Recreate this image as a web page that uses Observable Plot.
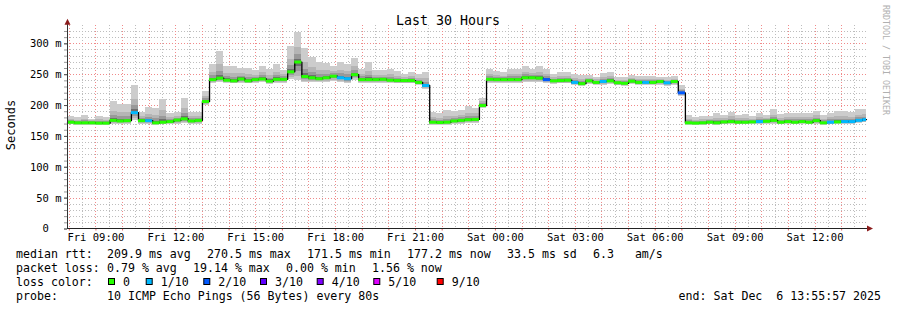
<!DOCTYPE html>
<html>
<head>
<meta charset="utf-8">
<script src="https://cdn.jsdelivr.net/npm/d3@7"></script>
<script src="https://cdn.jsdelivr.net/npm/@observablehq/plot@0.6"></script>
<style>
html,body{margin:0;padding:0;background:#fff;}
#wrap{position:relative;width:897px;height:310px;overflow:hidden;background:#fff;}
#wrap svg{position:absolute;left:0;top:0;}
</style>
</head>
<body>
<div id="wrap"></div>
<script>
// ---------------- data ----------------
const titleText = "Last 30 Hours";
const yLabelText = "Seconds";
const watermarkText = "RRDTOOL / TOBI OETIKER";
const startTime = new Date(2025, 11, 5, 7, 55, 57);
const endTime = new Date(2025, 11, 6, 13, 55, 57);
const stepMinutes = 16;

// median rtt per 16-minute bin (ms)
const median = [
173,172,172,172,171.5,171.5,176,175,175.5,188.5,
175.5,175.5,172,173,174,176.5,178.5,175,176,206.5,
242,244.3,241,240,243,240,242,243,239.5,242.5,
242.5,254.6,270.5,247,245,243.5,245,247.5,245,243.5,
250,242,242,242,242.5,241,240.5,240.5,240.5,237.5,
232.5,173,172.5,173,175,176,177,177.5,200,242.5,
242,242,242,242,245,245,244.5,242,240,240.5,
241,237.5,235.5,240,237.5,239,240,237,236,239.5,
237.5,237.5,237.5,239,236.8,239,220.6,172,171.5,172,
173,172,173.5,174,173,173,173.5,174,174.5,176,
173,174,173,174,173,175.5,172,173,173.5,174,
174,176,177.2];

// highest ping of each bin (top of the smoke, ms)
const smokeMax = [
183,180,184,178,182,180,206,202,201,232.5,
188,197,196,210,187,189,211,188,189,222.5,
266.5,287.5,263.8,264,259.5,259.5,256.7,264,259,266,
257,296,317.8,293,278,269,267.5,263,269,267,
276,259,269,256,256,259,255,250,254,251,
254,189,187,192,190,192,198,196,212,259,
255,253,259,259,263,259,263,259,250,253,
254,251,248,248,245.5,252,254,245,245,248,
247,247,247,245,245.5,247,232.5,184,180,182,
182,187,184,189,184,185.5,182,187,184,193,
186,187,187,187,187,191,184,187,190,190,
188,193,193];

// lowest ping of each bin (bottom of the smoke, ms)
const smokeMin = [
168.5,168,168,168,167.5,167.5,169,169,169,176,
169.5,170,168,168.5,169,170,171,169,170,200,
236,237,235.5,235,236,235,236,237,234.5,236,
236,243,240,237,237,237,238,239,238,236,
241,236,236,236,236,235.5,235,235,235,232,
226,168,168,168,169,170,171,171,195,236,
236,236,236,236,238,238,238,235,234.5,235,
235,232,231,234,232,233,234,232,231,233.5,
232,232,232,233,231,233,214,168,167.5,168,
168.5,168,168.5,169,168.5,168.5,169,169,169.5,170,
168.5,169,168.5,169,168.5,170,167.5,168.5,169,169,
169,171,172];

// packet loss level per bin (index into lossLabels)
const lossLevel = [
0,0,0,0,0,0,0,0,0,1,
0,1,0,0,0,0,0,0,0,0,
0,0,0,0,0,0,0,0,0,0,
0,0,0,0,0,0,0,0,1,1,
0,0,0,0,0,0,0,0,0,0,
1,0,0,0,0,0,0,0,0,0,
0,0,0,0,0,0,0,2,0,0,
0,1,0,0,0,1,0,0,0,0,
0,1,0,0,1,0,2,0,0,0,
0,0,0,0,0,0,0,1,0,0,
0,0,0,0,0,0,0,1,0,1,
1,1,1];

const lossLabels = ["0", "1/10", "2/10", "3/10", "4/10", "5/10", "9/10"];
const lossColors = ["#26ff00", "#00b8ff", "#0059ff", "#5e00ff", "#7e00ff", "#dd00ff", "#ff0000"];
const yTickValues = [0, 50, 100, 150, 200, 250, 300];

const rttLabel = "median rtt:";
const rttStats = ["209.9 ms avg", "270.5 ms max", "171.5 ms min", "177.2 ms now", "33.5 ms sd", "6.3   am/s"];
const lossLabel = "packet loss:";
const lossStats = ["0.79 % avg", "19.14 % max", "0.00 % min", "1.56 % now"];
const colorLabel = "loss color:";
const probeLabel = "probe:";
const probeText = "10 ICMP Echo Pings (56 Bytes) every 80s";
const endText = "end: Sat Dec  6 13:55:57 2025";

// ---------------- layout / style ----------------
const FONT = "'DejaVu Sans Mono', monospace";
const W = 897, H = 245;
const rttX = [107, 207, 307, 407, 507, 593];
const lossX = [107, 193, 286, 372];
const boxX = [108, 145.7, 203.3, 260, 316.7, 373.3, 436.7];
const lineBase = [258, 272, 286, 300];
const shades = [
  {down: 1.00, up: 1.00, fill: "#cccccc"},
  {down: 0.75, up: 0.50, fill: "#b5b5b5"},
  {down: 0.50, up: 0.26, fill: "#999999"},
  {down: 0.25, up: 0.10, fill: "#6e6e6e"}
];
const keep = s => s.replace(/ /g, "\u00a0");

const bins = median.map((m, i) => ({
  t0: d3.timeMinute.offset(startTime, stepMinutes * i),
  t1: d3.min([d3.timeMinute.offset(startTime, stepMinutes * (i + 1)), endTime]),
  med: m, hi: smokeMax[i], lo: smokeMin[i], loss: lossLevel[i]
}));
const stepLine = bins.map(d => ({t: d.t0, v: d.med}))
  .concat([{t: endTime, v: median[median.length - 1]}]);

const halfHours = d3.timeMinute.every(30).range(startTime, endTime).filter(d => d.getMinutes() !== 0);
const hours = d3.timeHour.range(startTime, endTime);
const labelTicks = hours.filter(d => d.getHours() % 3 === 0);
const minorY = d3.range(10, 330, 10).filter(v => v % 50 !== 0);
const majorY = d3.range(50, 330, 50);
const crisp = {shapeRendering: "crispEdges"};

const chart = Plot.plot({
  width: W, height: H,
  marginLeft: 67, marginRight: 31, marginTop: 24.8, marginBottom: 16.5,
  style: {fontFamily: FONT, fontSize: "10.5px", color: "#000", background: "#fff"},
  x: {type: "time", domain: [startTime, endTime], label: null},
  y: {domain: [0, 330], label: null},
  marks: [
    Plot.ruleY(minorY, {stroke: "#bdbdbd", strokeDasharray: "1,2", ...crisp}),
    Plot.ruleX(halfHours, {stroke: "#bdbdbd", strokeDasharray: "1,2", ...crisp}),
    Plot.ruleY(majorY, {stroke: "#f08a8a", strokeDasharray: "1,2", ...crisp}),
    Plot.ruleX(hours, {stroke: "#f08a8a", strokeDasharray: "1,2", ...crisp}),
    ...shades.map(s => Plot.rect(bins, {
      x1: "t0", x2: "t1",
      y1: d => d.med - s.down * (d.med - d.lo),
      y2: d => d.med + s.up * (d.hi - d.med),
      fill: s.fill, ...crisp
    })),
    Plot.line(stepLine, {x: "t", y: "v", curve: "step-after", stroke: "#000", strokeWidth: 1.3}),
    Plot.ruleY(bins, {y: "med", x1: "t0", x2: "t1", stroke: d => lossColors[d.loss], strokeWidth: 3}),
    Plot.axisY(d3.range(0, 330, 10), {tickSize: 3, tickFormat: () => "", stroke: "#999", label: null}),
    Plot.axisY(yTickValues, {tickSize: 3, tickPadding: 3, stroke: "#555", fill: "#000", label: null,
      tickFormat: d => d === 0 ? "0\u00a0\u00a0" : d + "\u00a0m"}),
    Plot.axisX(hours, {tickSize: 2, tickFormat: () => "", stroke: "#e06060", label: null}),
    Plot.axisX(labelTicks, {tickSize: 0, tickPadding: 4.5, fill: "#000", label: null,
      tickFormat: d3.timeFormat("%a %H:%M")})
  ]
});
document.getElementById("wrap").appendChild(chart);

// ---------------- overlay: axes arrows, title, legend ----------------
const xr = chart.scale("x").range, yr = chart.scale("y").range;
const ov = d3.select("#wrap").append("svg")
  .attr("width", 897).attr("height", 310)
  .style("font-family", FONT);

// axis lines + arrows
ov.append("line").attr("x1", xr[0]).attr("x2", xr[1] + 4).attr("y1", yr[0]).attr("y2", yr[0])
  .attr("stroke", "#222").attr("stroke-width", 1);
ov.append("line").attr("x1", xr[0] + 0.5).attr("x2", xr[0] + 0.5).attr("y1", yr[0]).attr("y2", yr[1] - 3)
  .attr("stroke", "#333").attr("stroke-width", 1);
ov.append("path").attr("d", `M${xr[0] - 2.5},${yr[1]} L${xr[0] + 3.5},${yr[1]} L${xr[0] + 0.5},${yr[1] - 6} Z`).attr("fill", "#8b1c1c");
ov.append("path").attr("d", `M${xr[1] + 1},${yr[0] - 3} L${xr[1] + 1},${yr[0] + 3} L${xr[1] + 7},${yr[0]} Z`).attr("fill", "#8b1c1c");

// title
ov.append("text").attr("x", 448).attr("y", 24.5).attr("text-anchor", "middle")
  .attr("font-size", "13.3px").attr("fill", "#000").text(keep(titleText));
// y label
ov.append("text").attr("transform", "translate(15,125) rotate(-90)").attr("text-anchor", "middle")
  .attr("font-size", "12px").attr("fill", "#000").text(yLabelText);
// watermark
ov.append("text").attr("transform", "translate(883,5) rotate(90)")
  .attr("font-size", "8.3px").attr("fill", "#b0b0b0").text(keep(watermarkText));

// legend
const lg = ov.append("g").attr("font-size", "11.6px").attr("fill", "#000");
lg.append("text").attr("x", 16).attr("y", lineBase[0]).text(keep(rttLabel));
rttStats.forEach((s, i) => lg.append("text").attr("x", rttX[i]).attr("y", lineBase[0]).text(keep(s)));
lg.append("text").attr("x", 16).attr("y", lineBase[1]).text(keep(lossLabel));
lossStats.forEach((s, i) => lg.append("text").attr("x", lossX[i]).attr("y", lineBase[1]).text(keep(s)));
lg.append("text").attr("x", 16).attr("y", lineBase[2]).text(keep(colorLabel));
lossLabels.forEach((s, i) => {
  lg.append("rect").attr("x", boxX[i] + 0.5).attr("y", 278.5).attr("width", 6).attr("height", 6)
    .attr("fill", lossColors[i]).attr("stroke", "#000").attr("stroke-width", 1);
  lg.append("text").attr("x", boxX[i] + 15).attr("y", lineBase[2]).text(keep(s));
});
lg.append("text").attr("x", 16).attr("y", lineBase[3]).text(keep(probeLabel));
lg.append("text").attr("x", 107).attr("y", lineBase[3]).text(keep(probeText));
lg.append("text").attr("x", 881).attr("y", lineBase[3]).attr("text-anchor", "end").text(keep(endText));
</script>
</body>
</html>
